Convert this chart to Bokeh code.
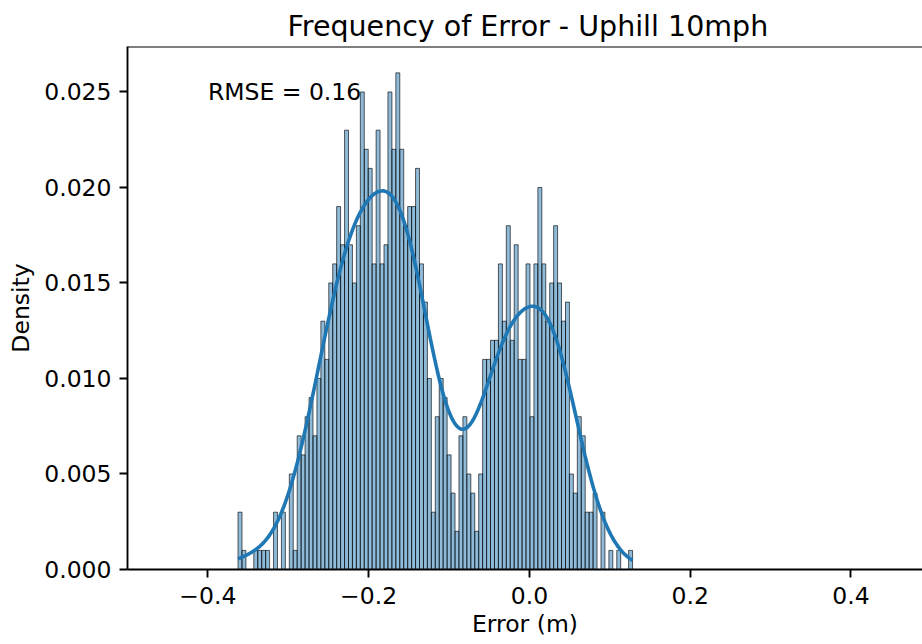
import numpy as np
from bokeh.plotting import figure
from bokeh.models import Range1d, FixedTicker, Label, Span, CustomJSTickFormatter
from bokeh.embed import file_html
from bokeh.resources import INLINE

# ---------------- data ----------------
title_text = "Frequency of Error - Uphill 10mph"
x_label = "Error (m)"
y_label = "Density"
rmse_text = "RMSE = 0.16"

bin_left = -0.3625          # smallest error (first bin edge)
bin_right = 0.1283          # largest error (last bin edge)
n_obs = 1000                # one sample = 0.001 of bar height

# height of each of the 100 bars (fraction of samples per bin)
bar_heights = [
    0.003, 0.001, 0.000, 0.000, 0.001, 0.001, 0.001, 0.001, 0.000, 0.003,
    0.000, 0.003, 0.000, 0.005, 0.001, 0.007, 0.006, 0.008, 0.009, 0.007,
    0.010, 0.013, 0.011, 0.015, 0.016, 0.019, 0.017, 0.023, 0.017, 0.015,
    0.018, 0.025, 0.022, 0.021, 0.016, 0.023, 0.016, 0.017, 0.025, 0.022,
    0.026, 0.022, 0.018, 0.019, 0.019, 0.021, 0.016, 0.014, 0.010, 0.003,
    0.008, 0.010, 0.009, 0.006, 0.004, 0.002, 0.007, 0.008, 0.005, 0.004,
    0.002, 0.005, 0.011, 0.011, 0.012, 0.012, 0.016, 0.013, 0.018, 0.012,
    0.017, 0.011, 0.011, 0.016, 0.008, 0.016, 0.020, 0.016, 0.013, 0.015,
    0.018, 0.015, 0.013, 0.014, 0.005, 0.004, 0.008, 0.007, 0.003, 0.003,
    0.004, 0.000, 0.003, 0.000, 0.001, 0.000, 0.001, 0.000, 0.000, 0.001,
]

x_ticks = [-0.4, -0.2, 0.0, 0.2, 0.4]
x_tick_labels = ["\u22120.4", "\u22120.2", "0.0", "0.2", "0.4"]
y_ticks = [0.000, 0.005, 0.010, 0.015, 0.020, 0.025]
y_tick_labels = ["0.000", "0.005", "0.010", "0.015", "0.020", "0.025"]

# ---------------- derived ----------------
heights = np.array(bar_heights)
edges = np.linspace(bin_left, bin_right, len(heights) + 1)
bw_bin = edges[1] - edges[0]
centers = 0.5 * (edges[:-1] + edges[1:])

# Gaussian KDE (Scott's rule), scaled to the histogram's probability units
wts = heights / heights.sum()
mu = np.sum(wts * centers)
sd = np.sqrt(np.sum(wts * (centers - mu) ** 2))
bw = sd * n_obs ** (-0.2)
xs = np.linspace(bin_left, bin_right, 200)
dens = np.sum(wts[None, :] * np.exp(-0.5 * ((xs[:, None] - centers[None, :]) / bw) ** 2), axis=1) / (bw * np.sqrt(2 * np.pi))
kde_y = dens * bw_bin

FONT = "DejaVu Sans"
FS = "23.5px"
Y_END = 0.02738

p = figure(width=922, height=644, output_backend="svg", toolbar_location=None,
           x_range=Range1d(-0.5, 0.489), y_range=Range1d(0, Y_END),
           min_border_left=127, min_border_right=0, min_border_top=46, min_border_bottom=75)
p.outline_line_color = None
p.xgrid.visible = False
p.ygrid.visible = False
p.background_fill_color = "white"
p.border_fill_color = "white"

p.title.text = title_text
p.title.text_font = FONT
p.title.text_font_size = "28.5px"
p.title.text_font_style = "normal"
p.title.align = "left"
p.title.offset = 160
p.title.standoff = 7
p.title.text_color = "black"

p.quad(left=edges[:-1], right=edges[1:], bottom=0, top=heights,
       fill_color="#1f77b4", fill_alpha=0.5, line_color="black", line_alpha=0.7, line_width=0.9)
p.line(xs, kde_y, line_color="#1f77b4", line_width=3.6)

p.add_layout(Label(x=-0.4, y=0.025, text=rmse_text, text_font=FONT, text_font_size=FS,
                   text_baseline="alphabetic", text_align="left", text_color="black"))
p.add_layout(Span(location=Y_END, dimension="width", line_color="black", line_width=1.9))

fmt_code = "const i = tvals.findIndex(t => Math.abs(t - tick) < 1e-9); return i >= 0 ? tlabels[i] : '';"
p.xaxis.ticker = FixedTicker(ticks=x_ticks)
p.xaxis.formatter = CustomJSTickFormatter(args=dict(tvals=x_ticks, tlabels=x_tick_labels), code=fmt_code)
p.yaxis.ticker = FixedTicker(ticks=y_ticks)
p.yaxis.formatter = CustomJSTickFormatter(args=dict(tvals=y_ticks, tlabels=y_tick_labels), code=fmt_code)
p.xaxis.axis_label = x_label
p.yaxis.axis_label = y_label

for ax in (p.xaxis[0], p.yaxis[0]):
    ax.axis_line_width = 1.9
    ax.axis_line_color = "black"
    ax.major_tick_line_width = 1.9
    ax.major_tick_line_color = "black"
    ax.major_tick_out = 8
    ax.major_tick_in = 0
    ax.minor_tick_out = 0
    ax.minor_tick_in = 0
    ax.major_label_text_font = FONT
    ax.major_label_text_font_size = FS
    ax.major_label_text_color = "black"
    ax.major_label_standoff = 8
    ax.axis_label_text_font = FONT
    ax.axis_label_text_font_size = FS
    ax.axis_label_text_font_style = "normal"
    ax.axis_label_text_color = "black"
p.xaxis.major_label_standoff = 9
p.xaxis.axis_label_standoff = 3
p.yaxis.axis_label_standoff = 6

open("out.html", "w").write(file_html(p, INLINE))
